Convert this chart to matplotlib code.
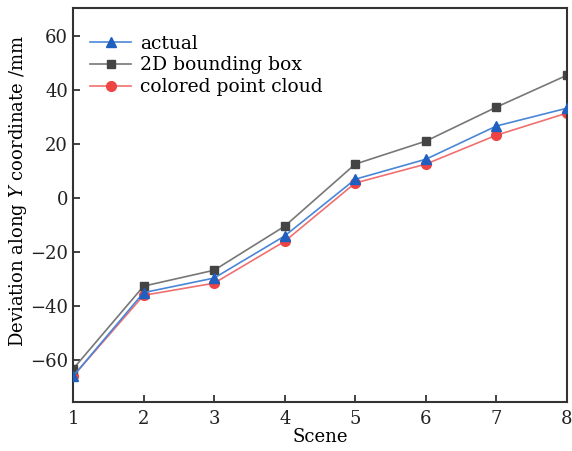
import matplotlib
matplotlib.use("Agg")
import matplotlib.pyplot as plt

scenes = [1, 2, 3, 4, 5, 6, 7, 8]
actual = [-66, -35, -29.6, -14, 7, 14.4, 26.7, 33.3]
bbox2d = [-63.3, -32.6, -26.7, -10.4, 12.6, 21.1, 33.7, 45.5]
colored = [-66, -36, -31.5, -16, 5.6, 12.6, 23.3, 31.5]
yticks = [-60, -40, -20, 0, 20, 40, 60]

plt.rcParams['font.family'] = ['DejaVu Serif']
plt.rcParams['mathtext.fontset'] = 'dejavuserif'

fig = plt.figure(figsize=(5.72, 4.51), dpi=100)
ax = fig.add_axes([73/572, 1-402/451, (567-73)/572, (402-8)/451])

ax.plot(scenes, actual, color='#4a86d8', marker='^', markersize=7, markerfacecolor='#1f5fbf',
        markeredgecolor='#1f5fbf', lw=1.2, label='actual', zorder=3)
ax.plot(scenes, bbox2d, color='#777777', marker='s', markersize=6, markerfacecolor='#444444',
        markeredgecolor='#444444', lw=1.2, label='2D bounding box', zorder=2)
ax.plot(scenes, colored, color='#f07070', marker='o', markersize=7, markerfacecolor='#ee4444',
        markeredgecolor='#ee4444', lw=1.2, label='colored point cloud', zorder=1)

ax.set_xlim(1, 8)
ax.set_ylim(-75.5, 70.4)
ax.set_xticks(scenes)
ax.set_yticks(yticks)
ax.set_yticklabels([f"\u2212{abs(v)}" if v < 0 else str(v) for v in yticks])
ax.tick_params(direction='in', length=5, width=1.2, labelsize=13, colors='#222222')
ax.tick_params(axis='x', pad=6)
for s in ax.spines.values():
    s.set_linewidth(1.5)
    s.set_color('#333333')

ax.set_xlabel('Scene', fontsize=13, labelpad=0)
ax.set_ylabel('Deviation along $Y$ coordinate /mm', fontsize=13)
ax.yaxis.set_label_coords(-0.09, 0.535)

leg = ax.legend(loc='upper left', bbox_to_anchor=(0.0, 0.975), frameon=False, fontsize=13.5,
                handlelength=2.2, handletextpad=0.5, borderaxespad=0.5, labelspacing=0.2)

fig.savefig('out.png', dpi=100)
